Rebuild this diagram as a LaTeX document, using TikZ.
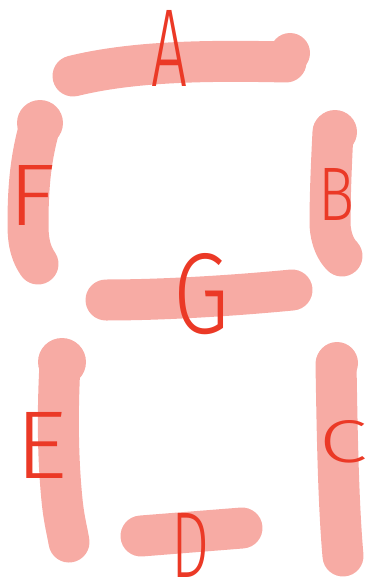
\documentclass[tikz,border=0pt]{standalone}
\usepackage{fontspec}
\usepackage{graphicx}
\newfontfamily\handfont{Fira Sans Light}
\definecolor{seg}{RGB}{247,171,164}
\definecolor{ink}{RGB}{235,57,38}
\begin{document}
\begin{tikzpicture}[x=1pt,y=-1pt,
  segment/.style={draw=seg, line width=41pt, line cap=round, line join=round},
  blob/.style={fill=seg},
  letter/.style={text=ink, font=\handfont, inner sep=0pt, anchor=base}]
\useasboundingbox (0,0) rectangle (368,586);
% A
\draw[segment] (73,76) .. controls (130,62) and (200,60) .. (286,62);
\fill[blob] (290,53) circle (20);
% F
\draw[segment] (40,125) .. controls (30,160) and (28,190) .. (28,225) .. controls (28,245) and (32,255) .. (38,264);
\fill[blob] (40,123) circle (23);
% B
\draw[segment] (333,132) .. controls (331,170) and (330,200) .. (330,225) .. controls (331,240) and (336,250) .. (342,256);
\fill[blob] (335,132) circle (22);
% G
\draw[segment] (106,300) .. controls (160,300) and (230,296) .. (292,290);
% E
\draw[segment] (60,364) .. controls (58,400) and (57,450) .. (62,500) .. controls (64,520) and (67,530) .. (69,542);
\fill[blob] (62,362) circle (24);
% C
\draw[segment] (336,364) .. controls (337,420) and (338,500) .. (343,556);
\fill[blob] (337,363) circle (21);
% D
\draw[segment] (141,536) -- (242,528);
% letters
\node[letter] (la) at (170,86) {\resizebox{36pt}{76pt}{A}};
\node[letter] (lf) at (32,225) {\resizebox{47pt}{60pt}{F}};
\node[letter] (lb) at (337,220) {\resizebox{36pt}{52pt}{B}};
\node[letter] (lg) at (201,333) {\resizebox{56pt}{80pt}{G}};
\node[letter] (le) at (42,478) {\resizebox{52pt}{66pt}{E}};
\node[letter] (lc) at (343,462) {\resizebox{48pt}{42pt}{C}};
\node[letter] (ld) at (191,577) {\resizebox{38pt}{64pt}{D}};
\end{tikzpicture}
\end{document}
